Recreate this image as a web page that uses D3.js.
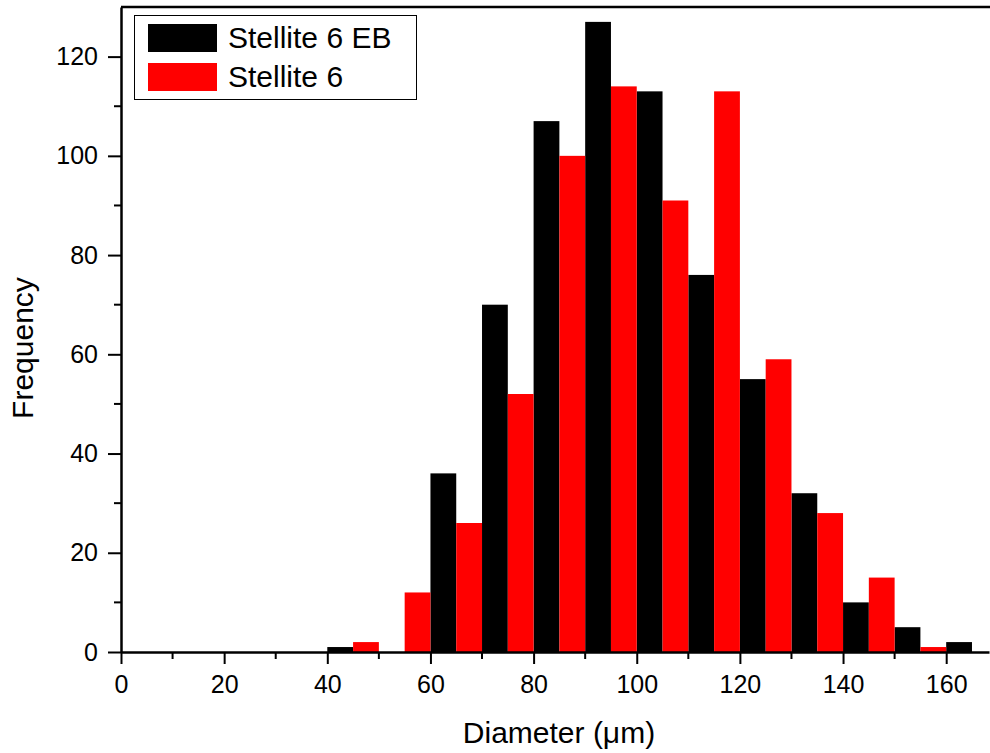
<!DOCTYPE html>
<html>
<head>
<meta charset="utf-8">
<script src="https://cdn.jsdelivr.net/npm/d3@7"></script>
<style>
  body { margin: 0; background: #fff; }
  text { font-family: "Liberation Sans", Arial, sans-serif; }
</style>
</head>
<body>
<svg id="chart" width="990" height="753"></svg>
<script>
(() => {

    // series data: bin start (µm) and counts, bin width 5
    const bin_width = 5;
    const eb_bins = [40, 60, 70, 80, 90, 100, 110, 120, 130, 140, 150, 160];
    const eb_counts = [1, 36, 70, 107, 127, 113, 76, 55, 32, 10, 5, 2];
    const st_bins = [45, 55, 65, 75, 85, 95, 105, 115, 125, 135, 145, 155];
    const st_counts = [2, 12, 26, 52, 100, 114, 91, 113, 59, 28, 15, 1];

    const series_names = ['Stellite 6 EB', 'Stellite 6'];
    const series_colors = ['#000000', '#ff0000'];

    const x_ticks = [0, 20, 40, 60, 80, 100, 120, 140, 160];
    const y_ticks = [0, 20, 40, 60, 80, 100, 120];

    // layout
    const left = 121, right = 989, top = 7, bottom = 652;

    let svg = d3.select('#chart');

    let x_scale = d3.scaleLinear()
        .domain([0, 168.3])
        .range([left, right]);

    let y_scale = d3.scaleLinear()
        .domain([0, 130])
        .range([bottom, top]);

    // bars
    const series = [
        eb_bins.map((b, i) => ({ start: b, count: eb_counts[i] })),
        st_bins.map((b, i) => ({ start: b, count: st_counts[i] }))
    ];

    series.forEach((s, k) => {
        svg.append('g')
            .selectAll('rect')
            .data(s)
            .enter()
            .append('rect')
            .attr('x', (d) => x_scale(d.start))
            .attr('width', (d) => x_scale(d.start + bin_width) - x_scale(d.start))
            .attr('y', (d) => y_scale(d.count))
            .attr('height', (d) => y_scale(0) - y_scale(d.count))
            .attr('fill', series_colors[k]);
    });

    // x axis
    let x_axis = d3.axisBottom(x_scale)
        .tickValues(x_ticks)
        .tickSize(12)
        .tickPadding(11)
        .tickSizeOuter(0);
    let gx = svg.append('g')
        .attr('transform', `translate(0, ${bottom})`)
        .call(x_axis);
    gx.select('.domain').attr('stroke-width', 2.5);
    gx.selectAll('.tick line').attr('stroke-width', 2);
    gx.selectAll('text').style('font-size', '25px').attr('fill', '#000');

    // x minor ticks
    svg.append('g')
        .selectAll('line')
        .data(d3.range(10, 170, 20))
        .enter()
        .append('line')
        .attr('x1', (d) => x_scale(d))
        .attr('x2', (d) => x_scale(d))
        .attr('y1', bottom)
        .attr('y2', bottom + 7)
        .attr('stroke', '#000')
        .attr('stroke-width', 2);

    // y axis
    let y_axis = d3.axisLeft(y_scale)
        .tickValues(y_ticks)
        .tickSize(13)
        .tickPadding(10)
        .tickSizeOuter(0);
    let gy = svg.append('g')
        .attr('transform', `translate(${left}, 0)`)
        .call(y_axis);
    gy.select('.domain').attr('stroke-width', 2.5);
    gy.selectAll('.tick line').attr('stroke-width', 2);
    gy.selectAll('text').style('font-size', '25px').attr('fill', '#000');

    // y minor ticks
    svg.append('g')
        .selectAll('line')
        .data(d3.range(10, 130, 20))
        .enter()
        .append('line')
        .attr('x1', left - 7)
        .attr('x2', left)
        .attr('y1', (d) => y_scale(d))
        .attr('y2', (d) => y_scale(d))
        .attr('stroke', '#000')
        .attr('stroke-width', 2);

    // top frame line
    svg.append('line')
        .attr('x1', left)
        .attr('x2', 990)
        .attr('y1', top)
        .attr('y2', top)
        .attr('stroke', '#000')
        .attr('stroke-width', 2.5);

    // axis titles
    svg.append('text')
        .attr('x', 559)
        .attr('y', 743)
        .attr('text-anchor', 'middle')
        .style('font-size', '30px')
        .text('Diameter (\u03bcm)');

    svg.append('text')
        .attr('transform', 'translate(33, 348) rotate(-90)')
        .attr('text-anchor', 'middle')
        .style('font-size', '30px')
        .text('Frequency');

    // legend
    let legend = svg.append('g');
    legend.append('rect')
        .attr('x', 134.5)
        .attr('y', 15.5)
        .attr('width', 282)
        .attr('height', 84)
        .attr('fill', '#fff')
        .attr('stroke', '#000')
        .attr('stroke-width', 1);

    legend.selectAll('.swatch')
        .data(series_names)
        .enter()
        .append('rect')
        .attr('x', 148)
        .attr('y', (d, i) => 24 + i * 39)
        .attr('width', 69)
        .attr('height', 28)
        .attr('fill', (d, i) => series_colors[i]);

    legend.selectAll('.label')
        .data(series_names)
        .enter()
        .append('text')
        .attr('x', 228)
        .attr('y', (d, i) => 48 + i * 39)
        .style('font-size', '30px')
        .text((d) => d);

})();
</script>
</body>
</html>
